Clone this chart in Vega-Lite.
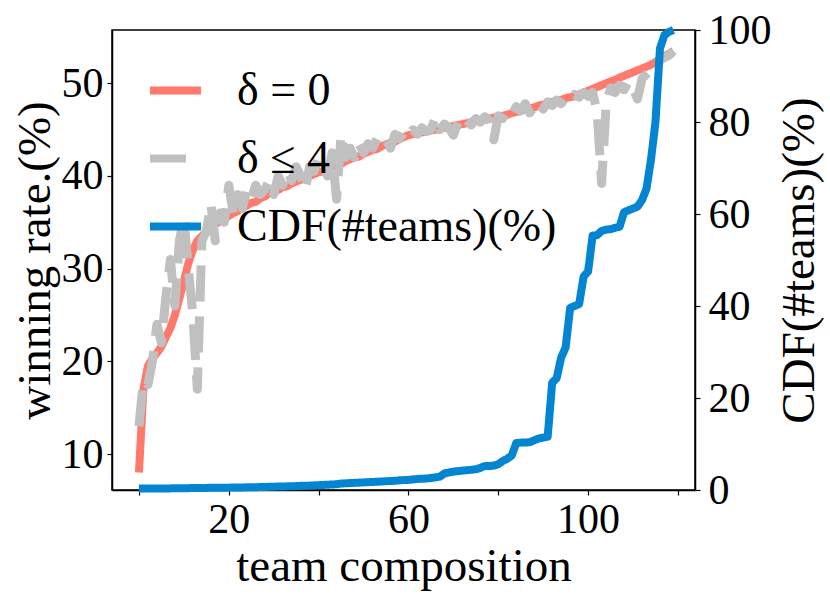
{
  "$schema": "https://vega.github.io/schema/vega-lite/v6.json",
  "width": 583,
  "height": 460,
  "autosize": {"type": "none"},
  "padding": {"left": 112, "top": 30, "right": 135, "bottom": 114},
  "background": "white",
  "datasets": {
    "delta0": [
      {"x": 0, "v": 8.0}, {"x": 1, "v": 17.0}, {"x": 2, "v": 19.5}, {"x": 3, "v": 20.3}, {"x": 4, "v": 20.9},
      {"x": 5, "v": 21.6}, {"x": 6, "v": 22.6}, {"x": 7, "v": 23.6}, {"x": 8, "v": 25.0}, {"x": 9, "v": 26.8},
      {"x": 10, "v": 28.6}, {"x": 11, "v": 30.6}, {"x": 12, "v": 32.0}, {"x": 13, "v": 33.0}, {"x": 14, "v": 33.5},
      {"x": 15, "v": 34.0}, {"x": 16, "v": 34.3}, {"x": 17, "v": 34.8}, {"x": 18, "v": 35.1}, {"x": 19, "v": 35.3},
      {"x": 20, "v": 35.7}, {"x": 21, "v": 36.0}, {"x": 22, "v": 36.2}, {"x": 23, "v": 36.6}, {"x": 24, "v": 36.8},
      {"x": 25, "v": 37.1}, {"x": 26, "v": 37.2}, {"x": 27, "v": 37.6}, {"x": 28, "v": 37.8}, {"x": 29, "v": 38.1},
      {"x": 30, "v": 38.3}, {"x": 31, "v": 38.5}, {"x": 32, "v": 38.8}, {"x": 33, "v": 38.9}, {"x": 34, "v": 39.2},
      {"x": 35, "v": 39.4}, {"x": 36, "v": 39.6}, {"x": 37, "v": 39.7}, {"x": 38, "v": 40.0}, {"x": 39, "v": 40.2},
      {"x": 40, "v": 40.4}, {"x": 41, "v": 40.5}, {"x": 42, "v": 40.8}, {"x": 43, "v": 41.0}, {"x": 44, "v": 41.2},
      {"x": 45, "v": 41.3}, {"x": 46, "v": 41.6}, {"x": 47, "v": 41.8}, {"x": 48, "v": 42.0}, {"x": 49, "v": 42.1},
      {"x": 50, "v": 42.4}, {"x": 51, "v": 42.6}, {"x": 52, "v": 42.8}, {"x": 53, "v": 42.9}, {"x": 54, "v": 43.2},
      {"x": 55, "v": 43.4}, {"x": 56, "v": 43.6}, {"x": 57, "v": 43.7}, {"x": 58, "v": 44.0}, {"x": 59, "v": 44.2},
      {"x": 60, "v": 44.4}, {"x": 61, "v": 44.5}, {"x": 62, "v": 44.6}, {"x": 63, "v": 44.7}, {"x": 64, "v": 44.8},
      {"x": 65, "v": 44.9}, {"x": 66, "v": 45.0}, {"x": 67, "v": 45.1}, {"x": 68, "v": 45.2}, {"x": 69, "v": 45.3},
      {"x": 70, "v": 45.4}, {"x": 71, "v": 45.5}, {"x": 72, "v": 45.6}, {"x": 73, "v": 45.7}, {"x": 74, "v": 45.8},
      {"x": 75, "v": 45.9}, {"x": 76, "v": 46.0}, {"x": 77, "v": 46.1}, {"x": 78, "v": 46.2}, {"x": 79, "v": 46.3},
      {"x": 80, "v": 46.4}, {"x": 81, "v": 46.5}, {"x": 82, "v": 46.6}, {"x": 83, "v": 46.8}, {"x": 84, "v": 46.9},
      {"x": 85, "v": 47.0}, {"x": 86, "v": 47.2}, {"x": 87, "v": 47.3}, {"x": 88, "v": 47.4}, {"x": 89, "v": 47.6},
      {"x": 90, "v": 47.7}, {"x": 91, "v": 47.8}, {"x": 92, "v": 48.0}, {"x": 93, "v": 48.1}, {"x": 94, "v": 48.2},
      {"x": 95, "v": 48.4}, {"x": 96, "v": 48.5}, {"x": 97, "v": 48.6}, {"x": 98, "v": 48.8}, {"x": 99, "v": 49.0},
      {"x": 100, "v": 49.2}, {"x": 101, "v": 49.4}, {"x": 102, "v": 49.6}, {"x": 103, "v": 49.8}, {"x": 104, "v": 50.0},
      {"x": 105, "v": 50.2}, {"x": 106, "v": 50.4}, {"x": 107, "v": 50.6}, {"x": 108, "v": 50.8}, {"x": 109, "v": 51.0},
      {"x": 110, "v": 51.2}, {"x": 111, "v": 51.4}, {"x": 112, "v": 51.6}, {"x": 113, "v": 51.8}, {"x": 114, "v": 52.0},
      {"x": 115, "v": 52.3}, {"x": 116, "v": 52.6}, {"x": 117, "v": 52.9}, {"x": 118, "v": 53.2}, {"x": 119, "v": 53.5}
    ],
    "delta4": [
      {"x": 0, "v": 13.0}, {"x": 1, "v": 18.0}, {"x": 2, "v": 17.5}, {"x": 3, "v": 20.0}, {"x": 4, "v": 24.0},
      {"x": 5, "v": 22.0}, {"x": 6, "v": 27.0}, {"x": 7, "v": 31.0}, {"x": 8, "v": 26.0}, {"x": 9, "v": 33.0},
      {"x": 10, "v": 35.5}, {"x": 11, "v": 30.0}, {"x": 12, "v": 25.0}, {"x": 13, "v": 17.0}, {"x": 14, "v": 33.0},
      {"x": 15, "v": 34.0}, {"x": 16, "v": 37.0}, {"x": 17, "v": 33.0}, {"x": 18, "v": 36.0}, {"x": 19, "v": 35.0},
      {"x": 20, "v": 39.0}, {"x": 21, "v": 36.0}, {"x": 22, "v": 38.0}, {"x": 23, "v": 36.5}, {"x": 24, "v": 38.5},
      {"x": 25, "v": 37.5}, {"x": 26, "v": 39.0}, {"x": 27, "v": 38.0}, {"x": 28, "v": 38.5}, {"x": 29, "v": 39.5},
      {"x": 30, "v": 38.0}, {"x": 31, "v": 40.0}, {"x": 32, "v": 39.0}, {"x": 33, "v": 40.5}, {"x": 34, "v": 39.5},
      {"x": 35, "v": 41.0}, {"x": 36, "v": 40.0}, {"x": 37, "v": 38.5}, {"x": 38, "v": 41.0}, {"x": 39, "v": 40.5},
      {"x": 40, "v": 42.0}, {"x": 41, "v": 41.0}, {"x": 42, "v": 40.0}, {"x": 43, "v": 42.5}, {"x": 44, "v": 37.5},
      {"x": 45, "v": 44.5}, {"x": 46, "v": 42.0}, {"x": 47, "v": 43.0}, {"x": 48, "v": 42.0}, {"x": 49, "v": 43.5},
      {"x": 50, "v": 42.5}, {"x": 51, "v": 43.5}, {"x": 52, "v": 43.0}, {"x": 53, "v": 44.0}, {"x": 54, "v": 43.5},
      {"x": 55, "v": 44.0}, {"x": 56, "v": 43.0}, {"x": 57, "v": 44.5}, {"x": 58, "v": 44.0}, {"x": 59, "v": 44.8},
      {"x": 60, "v": 44.3}, {"x": 61, "v": 45.0}, {"x": 62, "v": 44.5}, {"x": 63, "v": 45.2}, {"x": 64, "v": 44.8},
      {"x": 65, "v": 45.0}, {"x": 66, "v": 46.3}, {"x": 67, "v": 45.0}, {"x": 68, "v": 45.6}, {"x": 69, "v": 45.2},
      {"x": 70, "v": 44.4}, {"x": 71, "v": 45.8}, {"x": 72, "v": 45.3}, {"x": 73, "v": 46.0}, {"x": 74, "v": 45.5},
      {"x": 75, "v": 46.2}, {"x": 76, "v": 45.8}, {"x": 77, "v": 46.4}, {"x": 78, "v": 46.0}, {"x": 79, "v": 43.9},
      {"x": 80, "v": 46.5}, {"x": 81, "v": 46.2}, {"x": 82, "v": 47.0}, {"x": 83, "v": 46.5}, {"x": 84, "v": 47.5},
      {"x": 85, "v": 47.0}, {"x": 86, "v": 47.8}, {"x": 87, "v": 46.8}, {"x": 88, "v": 47.5}, {"x": 89, "v": 48.0},
      {"x": 90, "v": 47.2}, {"x": 91, "v": 48.0}, {"x": 92, "v": 47.6}, {"x": 93, "v": 48.2}, {"x": 94, "v": 47.8},
      {"x": 95, "v": 48.5}, {"x": 96, "v": 48.2}, {"x": 97, "v": 48.8}, {"x": 98, "v": 48.5}, {"x": 99, "v": 49.0},
      {"x": 100, "v": 48.6}, {"x": 101, "v": 49.0}, {"x": 102, "v": 47.0}, {"x": 103, "v": 39.2}, {"x": 104, "v": 47.5},
      {"x": 105, "v": 49.5}, {"x": 106, "v": 49.0}, {"x": 107, "v": 49.8}, {"x": 108, "v": 49.3}, {"x": 109, "v": 50.2},
      {"x": 110, "v": 49.5}, {"x": 111, "v": 48.3}, {"x": 112, "v": 50.5}, {"x": 113, "v": 51.0}, {"x": 114, "v": 51.5},
      {"x": 115, "v": 52.0}, {"x": 116, "v": 52.5}, {"x": 117, "v": 52.8}, {"x": 118, "v": 53.0}, {"x": 119, "v": 53.5}
    ],
    "cdf": [
      {"x": 0, "v": 0.3}, {"x": 1, "v": 0.3}, {"x": 2, "v": 0.3}, {"x": 3, "v": 0.3}, {"x": 4, "v": 0.3},
      {"x": 5, "v": 0.35}, {"x": 6, "v": 0.35}, {"x": 7, "v": 0.35}, {"x": 8, "v": 0.4}, {"x": 9, "v": 0.4},
      {"x": 10, "v": 0.4}, {"x": 11, "v": 0.4}, {"x": 12, "v": 0.45}, {"x": 13, "v": 0.45}, {"x": 14, "v": 0.45},
      {"x": 15, "v": 0.45}, {"x": 16, "v": 0.5}, {"x": 17, "v": 0.5}, {"x": 18, "v": 0.5}, {"x": 19, "v": 0.5},
      {"x": 20, "v": 0.5}, {"x": 21, "v": 0.55}, {"x": 22, "v": 0.55}, {"x": 23, "v": 0.55}, {"x": 24, "v": 0.6},
      {"x": 25, "v": 0.6}, {"x": 26, "v": 0.6}, {"x": 27, "v": 0.65}, {"x": 28, "v": 0.65}, {"x": 29, "v": 0.7},
      {"x": 30, "v": 0.7}, {"x": 31, "v": 0.75}, {"x": 32, "v": 0.75}, {"x": 33, "v": 0.8}, {"x": 34, "v": 0.8},
      {"x": 35, "v": 0.85}, {"x": 36, "v": 0.9}, {"x": 37, "v": 0.9}, {"x": 38, "v": 0.95}, {"x": 39, "v": 1.0},
      {"x": 40, "v": 1.05}, {"x": 41, "v": 1.1}, {"x": 42, "v": 1.15}, {"x": 43, "v": 1.2}, {"x": 44, "v": 1.25},
      {"x": 45, "v": 1.4}, {"x": 46, "v": 1.45}, {"x": 47, "v": 1.5}, {"x": 48, "v": 1.55}, {"x": 49, "v": 1.6},
      {"x": 50, "v": 1.65}, {"x": 51, "v": 1.7}, {"x": 52, "v": 1.75}, {"x": 53, "v": 1.8}, {"x": 54, "v": 1.85},
      {"x": 55, "v": 1.9}, {"x": 56, "v": 1.95}, {"x": 57, "v": 2.0}, {"x": 58, "v": 2.1}, {"x": 59, "v": 2.15},
      {"x": 60, "v": 2.2}, {"x": 61, "v": 2.3}, {"x": 62, "v": 2.4}, {"x": 63, "v": 2.45}, {"x": 64, "v": 2.5},
      {"x": 65, "v": 2.6}, {"x": 66, "v": 2.75}, {"x": 67, "v": 2.9}, {"x": 68, "v": 3.6}, {"x": 69, "v": 3.8},
      {"x": 70, "v": 4.0}, {"x": 71, "v": 4.1}, {"x": 72, "v": 4.2}, {"x": 73, "v": 4.3}, {"x": 74, "v": 4.4},
      {"x": 75, "v": 4.5}, {"x": 76, "v": 4.8}, {"x": 77, "v": 5.2}, {"x": 78, "v": 5.2}, {"x": 79, "v": 5.3},
      {"x": 80, "v": 5.6}, {"x": 81, "v": 6.3}, {"x": 82, "v": 6.8}, {"x": 83, "v": 7.5}, {"x": 84, "v": 10.2},
      {"x": 85, "v": 10.3}, {"x": 86, "v": 10.3}, {"x": 87, "v": 10.4}, {"x": 88, "v": 10.8}, {"x": 89, "v": 11.2},
      {"x": 90, "v": 11.4}, {"x": 91, "v": 11.6}, {"x": 92, "v": 23.3}, {"x": 93, "v": 24.3}, {"x": 94, "v": 28.8},
      {"x": 95, "v": 31.0}, {"x": 96, "v": 39.6}, {"x": 97, "v": 40.0}, {"x": 98, "v": 40.4}, {"x": 99, "v": 46.4},
      {"x": 100, "v": 47.5}, {"x": 101, "v": 55.3}, {"x": 102, "v": 55.4}, {"x": 103, "v": 56.3}, {"x": 104, "v": 56.6},
      {"x": 105, "v": 56.7}, {"x": 106, "v": 57.0}, {"x": 107, "v": 57.2}, {"x": 108, "v": 60.4}, {"x": 109, "v": 60.8},
      {"x": 110, "v": 61.2}, {"x": 111, "v": 61.6}, {"x": 112, "v": 63.0}, {"x": 113, "v": 65.5}, {"x": 114, "v": 71.8},
      {"x": 115, "v": 80.0}, {"x": 116, "v": 96.0}, {"x": 117, "v": 98.9}, {"x": 118, "v": 99.6}, {"x": 119, "v": 100.0}
    ]
  },
  "encoding": {
    "x": {
      "field": "x",
      "type": "quantitative",
      "scale": {"domain": [-6, 123.8], "nice": false, "zero": false},
      "axis": {
        "title": "team composition",
        "values": [0, 20, 40, 60, 80, 100, 120],
        "labelExpr": "datum.value % 40 == 20 ? datum.label : ''",
        "grid": false
      }
    },
    "color": {
      "scale": {
        "domain": ["δ = 0", "δ ≤ 4", "CDF(#teams)(%)"],
        "range": ["#ff796c", "#c0c0c0", "#0485d1"]
      },
      "legend": {
        "title": null,
        "orient": "none",
        "legendX": 34,
        "legendY": 31
      }
    },
    "strokeDash": {
      "scale": {
        "domain": ["δ = 0", "δ ≤ 4", "CDF(#teams)(%)"],
        "range": [[1, 0], [36, 15], [1, 0]]
      },
      "legend": {
        "title": null,
        "orient": "none",
        "legendX": 34,
        "legendY": 31
      }
    }
  },
  "layer": [
    {
      "encoding": {
        "y": {
          "field": "v",
          "type": "quantitative",
          "scale": {"domain": [6.12, 55.75], "nice": false, "zero": false},
          "axis": {"title": "winning rate.(%)", "values": [10, 20, 30, 40, 50], "orient": "left"}
        }
      },
      "layer": [
        {
          "data": {"name": "delta0"},
          "mark": {"type": "line", "strokeWidth": 8, "strokeJoin": "round"},
          "encoding": {"color": {"datum": "δ = 0"}, "strokeDash": {"datum": "δ = 0"}}
        },
        {
          "data": {"name": "delta4"},
          "mark": {"type": "line", "strokeWidth": 9, "strokeJoin": "round"},
          "encoding": {"color": {"datum": "δ ≤ 4"}, "strokeDash": {"datum": "δ ≤ 4"}}
        }
      ]
    },
    {
      "data": {"name": "cdf"},
      "mark": {"type": "line", "strokeWidth": 8, "strokeJoin": "round"},
      "encoding": {
        "y": {
          "field": "v",
          "type": "quantitative",
          "scale": {"domain": [0, 100], "nice": false},
          "axis": {
            "title": "CDF(#teams)(%)",
            "values": [0, 20, 40, 60, 80, 100],
            "orient": "right",
            "titleAngle": 270,
            "titleBaseline": "alphabetic",
            "titleAlign": "center",
            "titleX": 118,
            "titleY": 230
          }
        },
        "color": {"datum": "CDF(#teams)(%)"},
        "strokeDash": {"datum": "CDF(#teams)(%)"}
      }
    }
  ],
  "resolve": {"scale": {"y": "independent"}},
  "config": {
    "font": "Liberation Serif",
    "view": {"stroke": "black", "strokeWidth": 1.5},
    "axis": {
      "labelFont": "Liberation Serif",
      "titleFont": "Liberation Serif",
      "labelFontSize": 42,
      "titleFontSize": 47,
      "titleFontWeight": "normal",
      "labelColor": "black",
      "titleColor": "black",
      "domainColor": "black",
      "tickColor": "black",
      "tickSize": 5,
      "domainWidth": 1.5,
      "tickWidth": 1.2,
      "labelPadding": 4,
      "titlePadding": 2,
      "grid": false,
      "labelFlush": false,
      "labelOverlap": false
    },
    "axisX": {"labelPadding": 4, "titlePadding": 3},
    "axisRight": {"labelPadding": 8},
    "legend": {
      "labelFont": "Liberation Serif",
      "labelFontSize": 46,
      "labelColor": "black",
      "labelLimit": 0,
      "symbolType": "stroke",
      "symbolSize": 2601,
      "symbolStrokeWidth": 8,
      "labelOffset": 32,
      "rowPadding": 15,
      "padding": 0
    }
  }
}
